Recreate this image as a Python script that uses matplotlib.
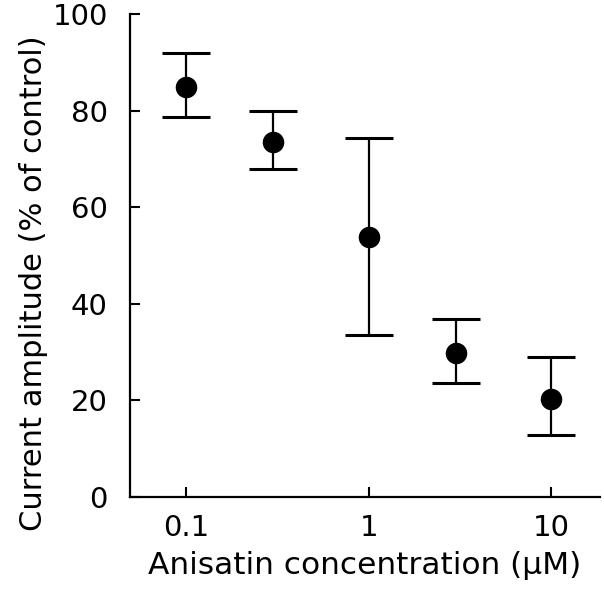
import matplotlib
matplotlib.use("Agg")
import matplotlib.pyplot as plt
import numpy as np

conc = [0.1, 0.3, 1, 3, 10]
amplitude = [84.9, 73.5, 53.8, 29.8, 20.3]
err_upper = [91.9, 79.9, 74.3, 36.9, 29.0]
err_lower = [78.7, 67.9, 33.5, 23.6, 12.8]
yticks = [0, 20, 40, 60, 80, 100]
xticks = [0.1, 1, 10]
xticklabels = ["0.1", "1", "10"]

plt.rcParams['font.family'] = ['DejaVu Sans']

fig = plt.figure(figsize=(6.04, 5.91), dpi=100)
ax = fig.add_axes([130/604, 1-497/591, (600-130)/604, (497-14)/591])

amp = np.array(amplitude)
yerr = [amp - np.array(err_lower), np.array(err_upper) - amp]
ax.errorbar(conc, amplitude, yerr=yerr, fmt='o', color='black', ms=14.5,
            elinewidth=1.6, capsize=17, capthick=2.2)

ax.set_xscale('log')
ax.set_xlim(0.0492, 18.5)
ax.set_ylim(0, 100)
ax.set_xticks(xticks)
ax.set_xticklabels(xticklabels)
ax.xaxis.set_minor_locator(matplotlib.ticker.NullLocator())
ax.set_yticks(yticks)
for s in ['top', 'right']:
    ax.spines[s].set_visible(False)
for s in ['left', 'bottom']:
    ax.spines[s].set_linewidth(1.6)
ax.tick_params(direction='in', length=7, width=1.5, labelsize=21, pad=12)
ax.tick_params(axis='y', pad=16)

ax.set_xlabel("Anisatin concentration (\u03bcM)", fontsize=22.5, labelpad=7)
ax.set_ylabel("Current amplitude (% of control)", fontsize=22)
ax.yaxis.set_label_coords(-0.175, 0.443)

fig.savefig("out.png", dpi=100)
